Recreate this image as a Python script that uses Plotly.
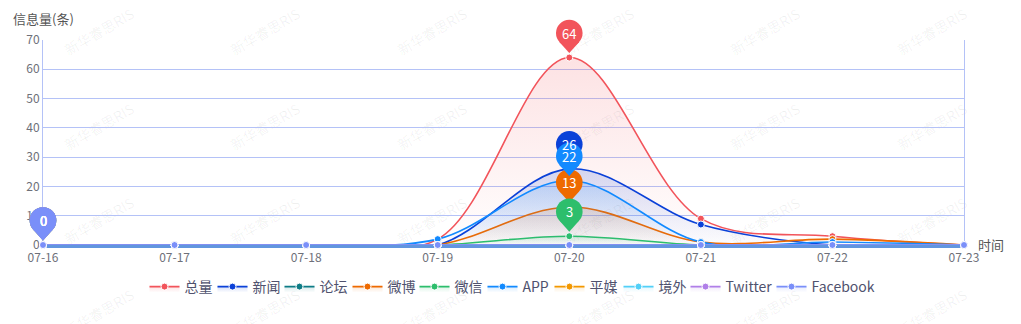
import numpy as np
import plotly.graph_objects as go

# ---- data -------------------------------------------------------------
dates = ["07-16", "07-17", "07-18", "07-19", "07-20", "07-21", "07-22", "07-23"]

total    = [0, 0, 0, 2, 64, 9, 3, 0]
news     = [0, 0, 0, 0, 26, 7, 0, 0]
forum    = [0, 0, 0, 0, 0, 0, 0, 0]
weibo    = [0, 0, 0, 0, 13, 1, 2, 0]
wechat   = [0, 0, 0, 0, 3, 0, 0, 0]
app      = [0, 0, 0, 2, 22, 1, 1, 0]
press    = [0, 0, 0, 0, 0, 0, 0, 0]
overseas = [0, 0, 0, 0, 0, 0, 0, 0]
twitter  = [0, 0, 0, 0, 0, 0, 0, 0]
facebook = [0, 0, 0, 0, 0, 0, 0, 0]

series_names = ["总量", "新闻", "论坛", "微博", "微信", "APP", "平媒", "境外", "Twitter", "Facebook"]
series_values = [total, news, forum, weibo, wechat, app, press, overseas, twitter, facebook]
series_colors = ["#F2545B", "#0B41D8", "#0E7C86", "#EE6A00", "#2DBE6C",
                 "#128AFF", "#F39800", "#52D0F8", "#B07FE8", "#7A8FF9"]
# width reserved for each legend label (px)
legend_widths = [23, 22, 23, 22, 23, 22, 24, 22, 41, 60]

y_title = "信息量(条)"
x_title = "时间"
watermark = "新华睿思RIS"

# ---- layout geometry (px) ----------------------------------------------
W, H = 1021, 324
PL, PR, PT, PB = 43, 964, 40, 245      # plot box
YMAX = 70
FONT = "Microsoft YaHei, 'Noto Sans CJK SC', sans-serif"
GRID = "#B4C2F7"
BASE = "#6196DF"

n = len(dates)
xstep = (PR - PL) / (n - 1)
ypx = (PB - PT) / YMAX


def rgba(hex_color, a):
    h = hex_color.lstrip("#")
    r, g, b = int(h[0:2], 16), int(h[2:4], 16), int(h[4:6], 16)
    return f"rgba({r},{g},{b},{a})"


fig = go.Figure()

for name, vals, col, lw in zip(series_names, series_values, series_colors, legend_widths):
    fig.add_trace(go.Scatter(
        x=dates, y=vals, name=name, mode="lines+markers",
        line=dict(color=col, width=1.6, shape="spline", smoothing=1),
        marker=dict(color=col, size=7, line=dict(color="white", width=1)),
        fill="tozeroy",
        fillgradient=dict(type="vertical",
                          colorscale=[[0, rgba(col, 0.0)], [1, rgba(col, 0.17)]]),
        cliponaxis=False,
        legendwidth=lw,
        xaxis="x", yaxis="y",
    ))

# ---- max-value pins (drawn on a full-page overlay axis pair) ------------
PIN_R, PIN_C, PIN_TIP = 13.3, 24.5, 4.5
d = PIN_C - PIN_TIP
ang = np.arccos(PIN_R / d)
lx, ly = -PIN_R * np.sin(ang), PIN_C - PIN_R * np.cos(ang)
rx = -lx
tip_path = f"M {lx:.2f},{ly:.2f} L 0,{PIN_TIP} L {rx:.2f},{ly:.2f} L 0,{PIN_C} Z"

shapes = []
annotations = []
for name, vals, col in zip(series_names, series_values, series_colors):
    i = int(np.argmax(vals))
    xa, ya = dates[i], vals[i]
    shapes.append(dict(
        type="path", xref="x2", yref="y2", xsizemode="pixel", ysizemode="pixel",
        xanchor=xa, yanchor=ya, path=tip_path,
        fillcolor=col, line=dict(width=0), layer="above",
    ))
    shapes.append(dict(
        type="circle", xref="x2", yref="y2", xsizemode="pixel", ysizemode="pixel",
        xanchor=xa, yanchor=ya,
        x0=-PIN_R, x1=PIN_R, y0=PIN_C - PIN_R, y1=PIN_C + PIN_R,
        fillcolor=col, line=dict(width=0), layer="above",
    ))
    annotations.append(dict(
        text=str(ya), x=xa, y=ya, xref="x2", yref="y2", yshift=PIN_C,
        showarrow=False, xanchor="center", yanchor="middle",
        font=dict(color="white", size=13, family=FONT),
    ))

# ---- faint watermark grid beneath the chart ------------------------------
wm_x = [100, 266, 433, 600, 766, 933]
wm_y = [33, 128, 222, 314]
for wy in wm_y:
    for wx in wm_x:
        shapes.append(dict(
            type="rect", xref="paper", yref="paper",
            x0=(wx - 1) / W, x1=(wx + 1) / W, y0=1 - (wy + 1) / H, y1=1 - (wy - 1) / H,
            line=dict(width=0), fillcolor="rgba(0,0,0,0)", layer="below",
            label=dict(text=watermark, textangle=-30, textposition="middle center",
                       font=dict(color="rgba(0,0,0,0.06)", size=14, family=FONT)),
        ))

annotations += [
    dict(text=y_title, xref="paper", yref="paper", x=PL / W, y=1 - 18 / H,
         xanchor="center", yanchor="middle", showarrow=False,
         font=dict(size=13, color="#555555", family=FONT)),
    dict(text=x_title, xref="paper", yref="paper", x=(PR + 12) / W, y=1 - 244 / H,
         xanchor="left", yanchor="middle", showarrow=False,
         font=dict(size=13, color="#555555", family=FONT)),
]

fig.update_layout(
    width=W, height=H, autosize=False,
    margin=dict(l=0, r=0, t=0, b=0, pad=0, autoexpand=False),
    paper_bgcolor="white", plot_bgcolor="rgba(0,0,0,0)",
    font=dict(family=FONT, color="#6E7079", size=12),
    xaxis=dict(
        domain=[PL / W, PR / W], type="category", categoryorder="array",
        categoryarray=dates, range=[0, n - 1], automargin=False,
        showgrid=False, showline=True, linecolor=BASE, linewidth=3, mirror=False,
        layer="below traces",
        ticks="", tickfont=dict(size=12, color="#6E7079"), zeroline=False,
        anchor="y", fixedrange=True,
    ),
    yaxis=dict(
        domain=[1 - PB / H, 1 - PT / H], range=[0, YMAX], dtick=10, automargin=False,
        showgrid=True, gridcolor=GRID, gridwidth=1,
        showline=True, linecolor=GRID, linewidth=1, mirror=True,
        layer="below traces",
        zeroline=False, ticks="", tickfont=dict(size=12, color="#6E7079"),
        anchor="x", fixedrange=True,
    ),
    xaxis2=dict(
        domain=[0, 1], type="category", categoryorder="array", categoryarray=dates,
        range=[-PL / xstep, (n - 1) + (W - PR) / xstep], automargin=False,
        visible=False, anchor="y2", fixedrange=True,
    ),
    yaxis2=dict(
        domain=[0, 1], range=[-(H - PB) / ypx, YMAX + PT / ypx], automargin=False,
        visible=False, anchor="x2", fixedrange=True,
    ),
    showlegend=True,
    legend=dict(
        orientation="h", xref="paper", yref="paper",
        x=0.5, xanchor="center", y=1 - 287 / H, yanchor="middle",
        font=dict(size=14, color="#50526E", family=FONT),
        itemwidth=30, bgcolor="rgba(0,0,0,0)",
    ),
    shapes=shapes,
    annotations=annotations,
)

fig.write_html("out.html")
